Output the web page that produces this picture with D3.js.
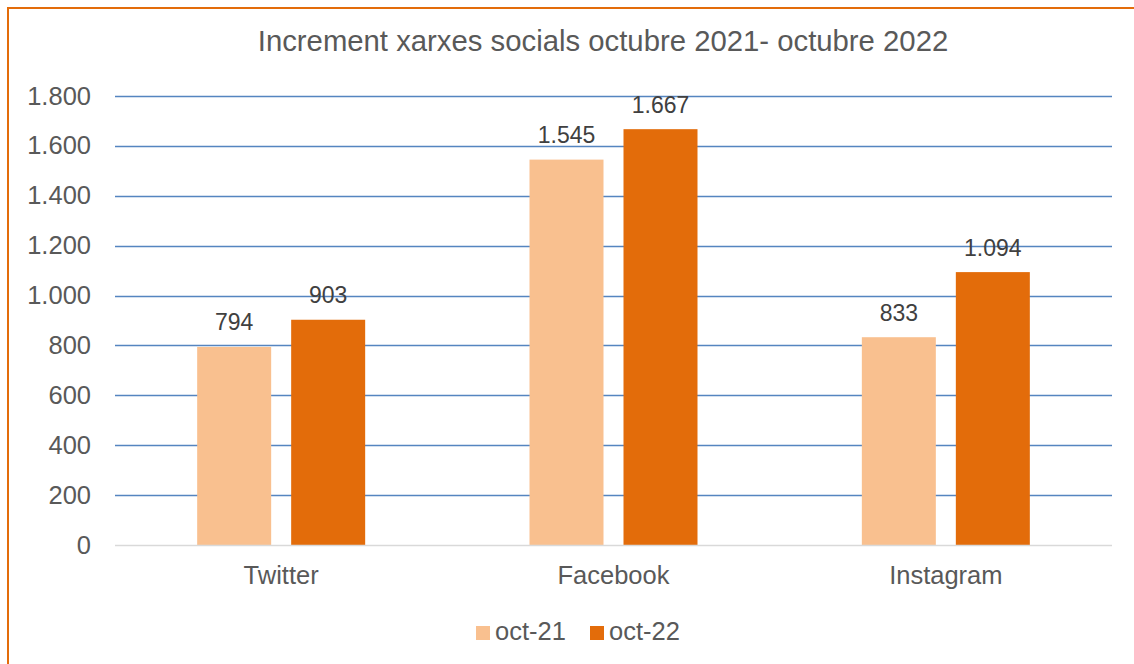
<!DOCTYPE html>
<html>
<head>
<meta charset="utf-8">
<script src="https://cdn.jsdelivr.net/npm/d3@7"></script>
<style>
  body { margin: 0; background: #fff; }
  svg { display: block; font-family: "Liberation Sans", Arial, sans-serif; }
</style>
</head>
<body>
<div id="chart"></div>
<script>
// chart data
var categories = ["Twitter", "Facebook", "Instagram"];
var seriesNames = ["oct-21", "oct-22"];
var oct21 = [794, 1545, 833];
var oct22 = [903, 1667, 1094];
var yTicks = [0, 200, 400, 600, 800, 1000, 1200, 1400, 1600, 1800];
var title = "Increment xarxes socials octubre 2021- octubre 2022";

var fills = ["#F9C08F", "#E36C0A"];
var width = 1134, height = 664;
var margin = { left: 115, right: 22, top: 96, bottom: 119 };
var axisFont = 25.5, labelFont = 23;

var svg = d3.select("#chart").append("svg")
  .attr("width", width)
  .attr("height", height);

// outer frame (right / bottom edges fall outside the picture)
svg.append("rect")
  .attr("x", 8)
  .attr("y", 8)
  .attr("width", width + 20)
  .attr("height", height + 20)
  .attr("fill", "#fff")
  .attr("stroke", "#E36C0A")
  .attr("stroke-width", 2);

var fmt = d3.formatLocale({ decimal: ",", thousands: ".", grouping: [3], currency: ["", ""] }).format(",d");

var x0 = d3.scaleBand()
  .domain(categories)
  .range([margin.left, width - margin.right]);

var barW = 74, barGap = 20;
var x1 = d3.scaleBand()
  .domain(seriesNames)
  .range([0, barW * 2 + barGap])
  .paddingInner(barGap / (barW + barGap));

var y = d3.scaleLinear()
  .domain([0, 1800])
  .range([height - margin.bottom, margin.top]);

// gridlines
svg.append("g")
  .selectAll("line")
  .data(yTicks.filter(d => d > 0))
  .enter()
  .append("line")
  .attr("x1", margin.left)
  .attr("x2", width - margin.right)
  .attr("y1", d => Math.round(y(d)) + 0.5)
  .attr("y2", d => Math.round(y(d)) + 0.5)
  .attr("stroke", "#5585C0")
  .attr("stroke-width", 1.3);

// y tick labels
svg.append("g")
  .selectAll("text")
  .data(yTicks)
  .enter()
  .append("text")
  .attr("x", 91)
  .attr("y", d => y(d) + 8.5)
  .attr("text-anchor", "end")
  .attr("font-size", axisFont)
  .attr("fill", "#595959")
  .text(d => fmt(d));

// bars
var rows = categories.map((c, i) => ({ cat: c, values: [oct21[i], oct22[i]] }));
var groups = svg.append("g")
  .selectAll("g")
  .data(rows)
  .enter()
  .append("g")
  .attr("transform", d => `translate(${x0(d.cat) + (x0.bandwidth() - x1.range()[1]) / 2}, 0)`);

groups.selectAll("rect")
  .data(d => d.values.map((v, k) => ({ name: seriesNames[k], value: v, k: k })))
  .enter()
  .append("rect")
  .attr("x", d => x1(d.name))
  .attr("y", d => y(d.value))
  .attr("width", x1.bandwidth())
  .attr("height", d => y(0) - y(d.value))
  .attr("fill", d => fills[d.k]);

groups.selectAll("text")
  .data(d => d.values.map((v, k) => ({ name: seriesNames[k], value: v, k: k })))
  .enter()
  .append("text")
  .attr("x", d => x1(d.name) + x1.bandwidth() / 2)
  .attr("y", d => y(d.value) - 16.5)
  .attr("text-anchor", "middle")
  .attr("font-size", labelFont)
  .attr("fill", "#404040")
  .text(d => fmt(d.value));

// zero axis line
svg.append("line")
  .attr("x1", margin.left)
  .attr("x2", width - margin.right)
  .attr("y1", y(0) + 0.5)
  .attr("y2", y(0) + 0.5)
  .attr("stroke", "#D9D9D9")
  .attr("stroke-width", 1.5);

// category labels
svg.append("g")
  .selectAll("text")
  .data(categories)
  .enter()
  .append("text")
  .attr("x", d => x0(d) + x0.bandwidth() / 2)
  .attr("y", y(0) + 39)
  .attr("text-anchor", "middle")
  .attr("font-size", axisFont)
  .attr("fill", "#595959")
  .text(d => d);

// title
svg.append("text")
  .attr("x", 603)
  .attr("y", 51)
  .attr("text-anchor", "middle")
  .attr("font-size", 29.3)
  .attr("fill", "#595959")
  .text(title);

// legend
var legend = svg.append("g").attr("transform", "translate(476, 626)");
var legendX = [0, 114];
seriesNames.forEach((s, i) => {
  var g = legend.append("g").attr("transform", `translate(${legendX[i]}, 0)`);
  g.append("rect")
    .attr("x", 0)
    .attr("y", 0)
    .attr("width", 14)
    .attr("height", 14)
    .attr("fill", fills[i]);
  g.append("text")
    .attr("x", 19)
    .attr("y", 13.5)
    .attr("font-size", axisFont)
    .attr("fill", "#595959")
    .text(s);
});
</script>
</body>
</html>
